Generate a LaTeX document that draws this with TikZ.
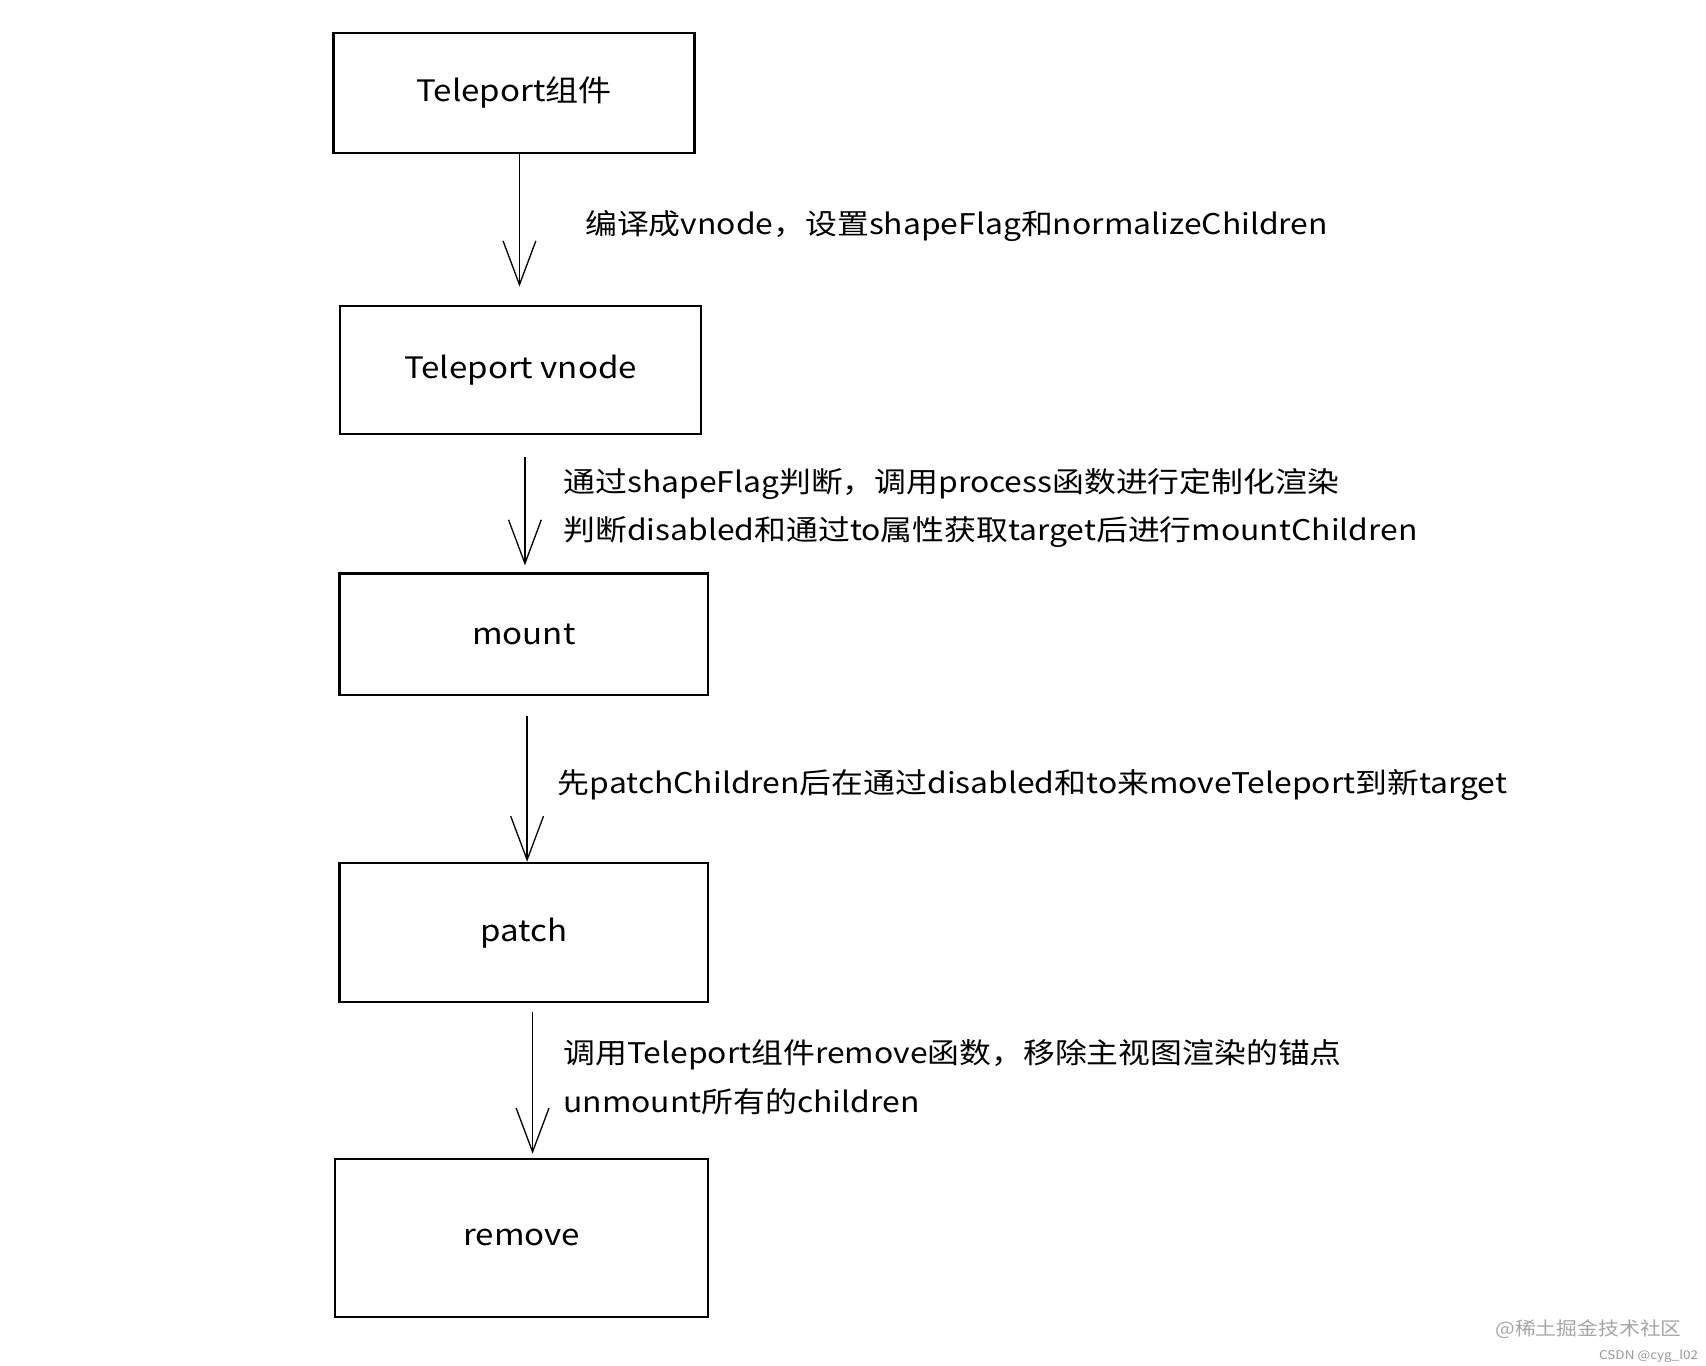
\documentclass[tikz,border=0pt]{standalone}
\usepackage{fontspec}
\setmainfont{Noto Sans CJK SC}[FakeStretch=1.12]
\usetikzlibrary{arrows.meta}
\begin{document}
\begin{tikzpicture}[x=1pt,y=-1pt,
  flow/.style={line width=1.3pt,-{Straight Barb[length=40pt,width=30pt,line width=1.2pt]}},
  bx/.style={draw,line width=2pt,font=\fontsize{27}{30}\selectfont},
  lab/.style={anchor=west,font=\fontsize{26}{30}\selectfont,inner sep=0pt}]
\useasboundingbox (0,0) rectangle (1560,1249);
\fill[white] (0,0) rectangle (1560,1249);
\node[bx,minimum width=330pt,minimum height=110pt] (b1) at (470,85) {Teleport组件};
\node[bx,minimum width=330pt,minimum height=117pt] (b2) at (476,338) {Teleport vnode};
\node[bx,minimum width=337pt,minimum height=111pt] (b3) at (479,580) {mount};
\node[bx,minimum width=337pt,minimum height=127pt] (b4) at (479,853) {patch};
\node[bx,minimum width=341pt,minimum height=145pt] (b5) at (477,1132) {remove};
\coordinate (a1s) at (475,140); \coordinate (a1e) at (475,262);
\coordinate (a2s) at (480,418); \coordinate (a2e) at (480,517);
\coordinate (a3s) at (482,655); \coordinate (a3e) at (482,788);
\coordinate (a4s) at (487,925); \coordinate (a4e) at (487,1055);
\draw[flow] (a1s) -- (a1e);
\draw[flow] (a2s) -- (a2e);
\draw[flow] (a3s) -- (a3e);
\draw[flow] (a4s) -- (a4e);
\node[lab] (t1) at (535,207) {编译成vnode，设置shapeFlag和normalizeChildren};
\node[lab] (t2) at (515,443) {通过shapeFlag判断，调用process函数进行定制化渲染};
\node[lab] (t3) at (515,487) {判断disabled和通过to属性获取target后进行mountChildren};
\node[lab] (t4) at (510,718) {先patchChildren后在通过disabled和to来moveTeleport到新target};
\node[lab] (t5) at (515,964) {调用Teleport组件remove函数，移除主视图渲染的锚点};
\node[lab] (t6) at (515,1007) {unmount所有的children};
\node[anchor=east,text=gray!70,font=\fontsize{17}{20}\selectfont,inner sep=0pt] (w1) at (1538,1215) {@稀土掘金技术社区};
\node[anchor=east,text=gray!80,font=\fontsize{11}{13}\selectfont,inner sep=0pt] (w2) at (1553,1240) {CSDN @cyg\_l02};
\end{tikzpicture}
\end{document}
